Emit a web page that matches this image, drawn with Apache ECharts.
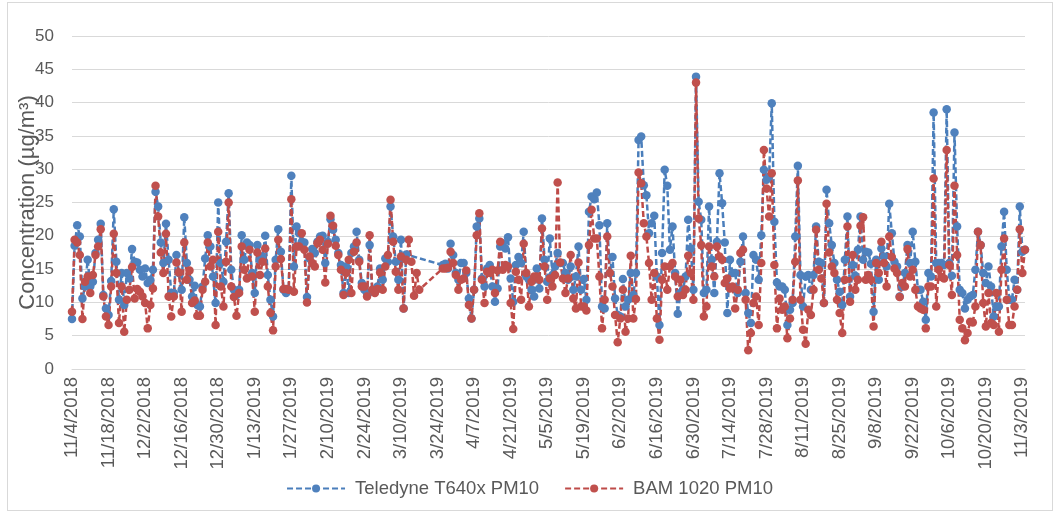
<!DOCTYPE html>
<html>
<head>
<meta charset="utf-8">
<script src="https://cdn.jsdelivr.net/npm/echarts@6/dist/echarts.min.js"></script>
<style>
  html, body { margin: 0; padding: 0; background: #fff; }
  #chart { width: 1059px; height: 513px; }
  #frame { position: absolute; left: 7px; top: 2px; width: 1046px; height: 509px; border: 1px solid #d9d9d9; pointer-events: none; box-sizing: border-box; }
</style>
</head>
<body>
<div id="chart"></div>
<div id="frame"></div>
<script>
var startDate = new Date(2018, 10, 4);
var dayCount = 366;

// Teledyne T640x PM10, one value per day from 11/4/2018 (null = no data)
var teledyne = [
  7.5, 18.5, 21.6, 19.9, 10.6, 12.4, 16.4, 12.4, 13.1, 17.4, 19.4, 21.8, 11.1, 9.1, 8.1, 13.2, 24.0, 16.1, 10.4, 14.4,
  9.6, 14.4, 13.6, 18.0, 16.1, 16.0, 14.9, 13.9, 15.1, 12.9, 13.4, 14.9, 26.6, 24.4, 19.0, 15.9, 21.8, 16.4, 11.4, 11.4,
  17.1, 14.4, 11.9, 22.8, 15.9, 13.4, 10.9, 12.5, 9.6, 9.4, 12.4, 16.6, 20.1, 18.4, 13.9, 9.9, 25.0, 15.9, 13.1, 19.1,
  26.4, 14.9, 11.9, 11.1, 11.9, 20.1, 16.4, 19.0, 18.6, 14.4, 11.4, 18.6, 16.4, 16.9, 20.0, 14.1, 10.4, 7.9, 16.4, 21.0,
  17.6, 11.9, 11.4, 11.9, 29.0, 15.4, 21.4, 20.4, 19.1, 19.0, 10.8, 16.6, 18.0, 17.4, 19.1, 19.9, 20.0, 15.9, 19.1, 22.5,
  20.9, 19.4, 17.4, 15.6, 11.4, 15.4, 11.4, 17.4, 18.4, 20.6, 16.4, 12.9, 11.9, 11.4, 18.6, 11.6, 11.9, 12.4, 15.1, 13.4,
  16.6, 16.1, 24.4, 19.9, 16.1, 13.4, 19.4, 9.1, 17.2, null, null, null, null, null, null, null, null, null, null, null,
  null, null, 15.6, 15.8, 15.1, 18.8, 17.1, 14.4, 13.4, 15.9, 15.9, 14.4, 10.6, 7.6, 11.9, 21.4, 22.6, 13.6, 12.4, 15.1,
  15.6, 12.4, 10.1, 12.1, 18.4, 18.9, 18.1, 19.8, 13.6, 10.1, 15.6, 16.8, 15.9, 20.6, 13.9, 13.4, 11.9, 10.9, 15.1, 12.1,
  22.6, 16.4, 13.1, 19.6, 14.1, 15.4, 17.4, 15.9, 15.9, 14.4, 13.4, 15.4, 11.9, 13.9, 18.4, 11.9, 13.5, 10.4, 23.6, 25.9,
  25.5, 26.5, 21.6, 9.4, 9.1, 21.9, 14.4, 16.8, 10.6, 8.1, 7.9, 13.5, 9.4, 10.4, 14.4, 11.1, 14.4, 34.4, 34.9, 27.6,
  26.1, 20.4, 21.9, 23.0, 13.9, 6.6, 17.4, 29.9, 27.5, 17.9, 21.4, 14.4, 8.3, 11.4, 11.9, 13.9, 22.4, 18.1, 11.9, 43.9,
  25.1, 22.4, 11.4, 11.9, 24.4, 16.4, 11.4, 19.1, 29.4, 24.9, 19.0, 8.4, 16.4, 14.4, 14.4, 11.4, 16.1, 19.9, 11.4, 8.4,
  6.9, 17.1, 16.4, 13.4, 20.1, 29.9, 28.4, 28.9, 39.9, 22.1, 13.0, 12.4, 12.4, 11.9, 6.6, 8.9, 9.9, 19.9, 30.5, 14.1,
  9.4, 13.9, 14.1, 11.9, 14.1, 21.4, 16.1, 15.9, 9.9, 26.9, 21.9, 18.6, 15.9, 13.4, 11.6, 9.6, 16.4, 22.9, 10.9, 15.6,
  14.0, 17.9, 22.9, 16.4, 17.6, 17.5, 15.8, 8.6, 16.4, 13.4, 18.1, 16.9, 15.4, 24.8, 20.4, 16.1, 15.4, 10.9, 12.4, 14.4,
  18.6, 15.9, 20.6, 16.1, 11.9, 11.9, 10.1, 7.4, 14.4, 13.9, 38.5, 15.9, 15.9, 15.9, 15.6, 39.0, 15.9, 14.0, 35.5, 21.4,
  11.9, 11.4, 9.1, 10.4, 10.9, 11.1, 14.9, 20.6, 18.6, 14.4, 12.9, 15.4, 12.4, 7.9, 9.4, 9.4, 18.4, 23.6, 14.9, 10.4,
  10.4, 13.4, 11.9, 24.4, 17.6, 17.9
];

// BAM 1020 PM10, same days
var bam = [
  8.6, 19.4, 19.0, 17.1, 7.5, 13.1, 13.9, 11.4, 14.1, 17.1, 18.4, 21.0, 10.9, 7.9, 6.6, 12.4, 20.3, 14.4, 6.9, 12.4,
  5.6, 10.4, 11.9, 15.3, 10.6, 12.0, 11.6, 10.9, 9.9, 6.1, 9.6, 12.1, 27.5, 22.9, 17.5, 14.4, 20.3, 10.9, 7.9, 10.9,
  16.0, 14.5, 8.6, 19.0, 13.4, 14.8, 9.9, 10.3, 8.0, 8.0, 11.9, 13.1, 19.0, 15.4, 16.4, 6.6, 20.6, 12.4, 9.4, 16.1,
  25.0, 12.4, 10.8, 8.0, 11.4, 18.4, 14.9, 13.6, 17.9, 13.9, 8.6, 17.5, 14.1, 16.1, 18.1, 12.4, 8.4, 5.8, 15.4, 19.4,
  16.5, 12.0, 12.0, 11.9, 25.5, 11.6, 18.4, 18.4, 20.4, 17.9, 10.0, 16.9, 15.9, 15.4, 18.9, 19.4, 17.9, 13.0, 18.8, 23.0,
  21.5, 18.5, 17.1, 14.9, 11.1, 14.4, 16.4, 11.4, 17.6, 19.0, 16.1, 12.4, 12.4, 10.9, 20.1, 11.9, 11.4, 12.0, 14.5, 11.9,
  15.4, 17.1, 25.4, 19.1, 14.6, 11.9, 16.9, 9.1, 16.4, 19.4, 16.1, 11.0, 14.4, 11.9, null, null, null, null, null, null,
  null, null, 15.1, 15.1, 15.2, 17.6, 15.9, 14.1, 11.9, 13.4, 13.6, 14.8, 9.6, 7.6, 11.9, 20.1, 23.4, 13.4, 9.9, 14.6,
  14.4, 14.9, 11.4, 14.8, 19.1, 14.9, 15.6, 15.4, 9.9, 6.0, 14.6, 13.4, 10.4, 18.8, 14.4, 9.4, 13.1, 13.9, 13.9, 13.4,
  21.1, 15.4, 10.4, 13.6, 12.4, 14.1, 28.0, 16.0, 13.6, 11.4, 13.6, 17.1, 10.6, 9.1, 16.0, 9.4, 9.4, 8.8, 18.6, 23.9,
  19.6, 19.6, 13.9, 6.1, 10.4, 19.9, 14.4, 12.4, 8.1, 4.0, 7.6, 11.9, 5.6, 7.6, 17.0, 7.6, 10.5, 29.5, 27.9, 21.9,
  19.9, 15.9, 10.4, 14.4, 7.6, 4.4, 13.4, 15.4, 11.9, 15.4, 15.9, 13.9, 10.9, 13.4, 11.1, 11.9, 17.0, 14.4, 10.4, 43.0,
  22.6, 18.6, 7.9, 9.4, 18.4, 15.4, 13.9, 18.4, 16.9, 16.4, 12.9, 13.6, 12.1, 12.4, 9.1, 11.9, 17.4, 17.9, 10.4, 2.8,
  5.4, 9.9, 10.9, 6.6, 15.9, 32.9, 27.1, 22.9, 29.4, 15.6, 6.1, 10.6, 8.9, 9.4, 4.6, 7.6, 10.4, 16.1, 28.3, 10.4,
  5.9, 3.8, 8.9, 8.1, 11.9, 20.9, 14.9, 13.6, 9.9, 24.8, 17.5, 15.4, 14.4, 10.4, 8.4, 5.4, 13.4, 21.4, 10.1, 17.1,
  11.9, 13.4, 21.5, 22.8, 13.4, 14.1, 13.4, 6.4, 15.9, 14.4, 19.1, 15.9, 12.4, 19.9, 16.8, 15.1, 14.4, 10.8, 12.9, 12.4,
  18.0, 13.9, 14.9, 11.9, 9.4, 9.1, 8.9, 6.1, 12.4, 12.4, 28.6, 9.4, 14.9, 13.8, 13.6, 32.9, 15.6, 11.1, 27.5, 17.1,
  7.4, 6.1, 4.3, 5.4, 7.1, 7.0, 9.4, 20.6, 18.6, 9.9, 6.4, 11.4, 6.9, 6.6, 11.4, 5.6, 14.9, 19.6, 10.4, 6.6,
  6.6, 9.4, 11.9, 21.0, 14.4, 17.9
];

var seriesNames = ['Teledyne T640x PM10', 'BAM 1020 PM10'];
var yTicks = { min: 0, max: 50, interval: 5 };

var dates = [];
for (var i = 0; i < dayCount; i++) {
  var d = new Date(startDate.getFullYear(), startDate.getMonth(), startDate.getDate() + i);
  dates.push((d.getMonth() + 1) + '/' + d.getDate() + '/' + d.getFullYear());
}

var font = "'Liberation Sans', Arial, sans-serif";
var grey = '#595959';
var blue = '#4f81bd';
var red = '#c0504d';

var chart = echarts.init(document.getElementById('chart'), null, { renderer: 'canvas' });
chart.setOption({
  animation: false,
  textStyle: { fontFamily: font },
  grid: { left: 72, right: 34, top: 36, bottom: 144 },
  legend: {
    bottom: 10,
    left: 'center',
    itemWidth: 58,
    itemHeight: 10,
    itemGap: 25,
    textStyle: { color: grey, fontSize: 18.5, fontFamily: font, padding: [0, 0, 0, 5] },
    data: seriesNames
  },
  xAxis: {
    type: 'category',
    data: dates,
    boundaryGap: false,
    axisLine: { lineStyle: { color: '#d9d9d9', width: 1 } },
    axisTick: { show: false },
    axisLabel: { interval: 13, rotate: 90, color: grey, fontSize: 18.5, margin: 8, padding: [0, 0, 12, 0] },
    splitLine: { show: false }
  },
  yAxis: {
    type: 'value',
    min: yTicks.min,
    max: yTicks.max,
    interval: yTicks.interval,
    name: 'Concentration (µg/m³)',
    nameLocation: 'middle',
    nameRotate: 90,
    nameGap: 33,
    nameMoveOverlap: false,
    nameTextStyle: { color: grey, fontSize: 22 },
    axisLine: { show: false },
    axisTick: { show: false },
    axisLabel: { color: grey, fontSize: 17, margin: 18 },
    splitLine: { lineStyle: { color: '#d9d9d9', width: 1 } }
  },
  series: [
    {
      name: seriesNames[0],
      type: 'line',
      data: teledyne,
      connectNulls: true,
      showAllSymbol: true,
      symbol: 'circle',
      symbolSize: 8.5,
      lineStyle: { color: '#4a7ebb', width: 2.5, type: [6, 3] },
      itemStyle: { color: blue }
    },
    {
      name: seriesNames[1],
      type: 'line',
      data: bam,
      connectNulls: true,
      showAllSymbol: true,
      symbol: 'circle',
      symbolSize: 8.5,
      lineStyle: { color: '#be4b48', width: 2.5, type: [6, 3] },
      itemStyle: { color: red }
    }
  ]
});
</script>
</body>
</html>
